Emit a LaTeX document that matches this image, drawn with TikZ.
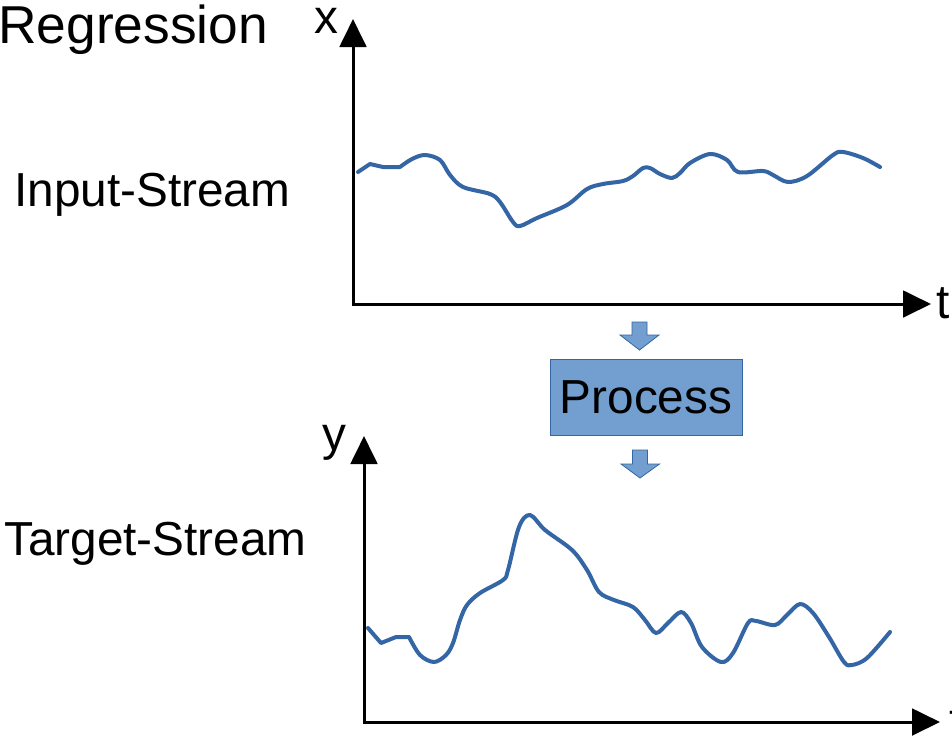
\documentclass[tikz,border=0pt]{standalone}
\usepackage{fontspec}
\setmainfont{Liberation Sans}
\usetikzlibrary{arrows.meta}
\definecolor{curveblue}{HTML}{3465A4}
\definecolor{boxblue}{HTML}{729FCF}
\tikzset{
  axis/.style={line width=2.25pt, {Triangle[length=21pt,width=20pt]}-{Triangle[length=21pt,width=20pt]}},
  signal/.style={curveblue, line width=3pt, line cap=round, line join=round},
  lbl/.style={anchor=base west, inner sep=0pt, font=\fontsize{35.8}{43}\selectfont},
  procbox/.style={draw=curveblue, fill=boxblue, line width=0.75pt, minimum width=144pt,
    minimum height=57pt, inner sep=0pt, font=\fontsize{35.8}{43}\selectfont},
  blockarrow/.style={fill=boxblue, draw=curveblue, line width=0.6pt, line join=miter},
}
\begin{document}
\begin{tikzpicture}[x=0.75pt, y=-0.75pt]
\useasboundingbox (0,0) rectangle (952,740);

% labels
\node[lbl, font=\fontsize{40}{48}\selectfont] (title) at (-2,43) {Regression};
\node[lbl] (inlbl) at (14,206) {Input-Stream};
\node[lbl] (tglbl) at (4,555) {Target-Stream};
\node[lbl] (xlbl) at (314,33) {x};
\node[lbl] (ylbl) at (322,450) {y};
\node[lbl] (t1lbl) at (936,318) {t};
\node[lbl] (t2lbl) at (949,736) {t};

% input axes
\coordinate (o1) at (353,304);
\coordinate (xtip) at (353,19);
\coordinate (t1tip) at (931,304);
\draw[axis] (xtip) -- (o1) -- (t1tip);

% target axes
\coordinate (o2) at (364,722);
\coordinate (ytip) at (364,436);
\coordinate (t2tip) at (940,722);
\draw[axis] (ytip) -- (o2) -- (t2tip);

% input signal
\draw[signal] (358,172) -- (370,164) -- (383,167) -- (400,167)
  plot[smooth, tension=0.55] coordinates {(400,167) (412,159) (425,155) (440,160) (450,175)
  (463,187) (490,194) (500,202) (513,222) (520,226) (537,218) (567,205) (587,189)
  (603,184) (623,181) (633,176) (643,168) (650,168) (660,174) (672,178) (680,173)
  (690,163) (710,154) (727,160) (738,172) (763,171) (773,175) (788,182) (807,176)
  (833,155) (843,152) (863,158) (880,167)};

% target signal
\draw[signal] (368,628) -- (381,643) -- (396,637) -- (409,637)
  plot[smooth, tension=0.55] coordinates {(409,637) (420,655) (434,662) (446,655)
  (453,643) (460,620) (467,605) (480,593) (503,580) (508,570) (519,527) (530,515)
  (545,530) (572,550) (587,570) (599,592) (614,600) (633,607) (645,620) (656,633)
  (668,623) (681,612) (691,623) (702,647) (721,662) (733,653) (748,623) (756,621)
  (775,625) (787,615) (800,604) (813,613) (829,637) (844,662) (852,665) (867,658)
  (890,632)};

% process block with feed arrows
\node[procbox] (proc) at (646,397) {Process};
\coordinate (a1) at (639.5,322);
\coordinate (a2) at (640,450);
\draw[blockarrow] (a1) ++(-7.5,0) -- ++(15,0) -- ++(0,13) -- ++(12,0) -- (639.5,350)
  -- (620,335) -- ++(12,0) -- cycle;
\draw[blockarrow] (a2) ++(-7.5,0) -- ++(15,0) -- ++(0,14) -- ++(12,0) -- (640,478)
  -- (621,464) -- ++(11.5,0) -- cycle;
\end{tikzpicture}
\end{document}
